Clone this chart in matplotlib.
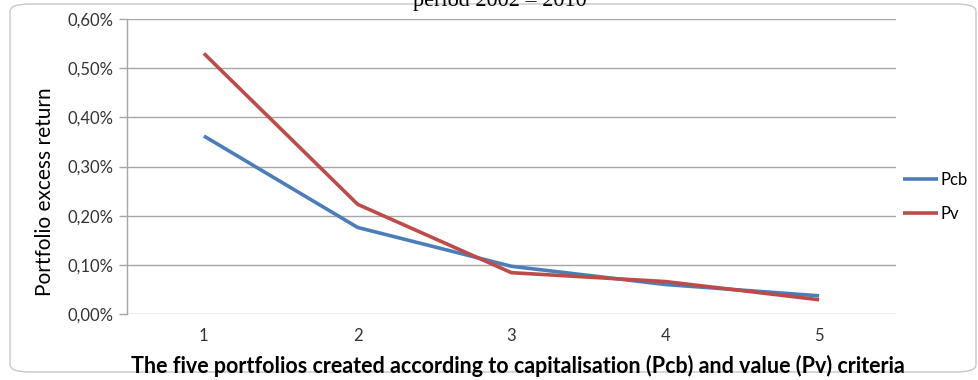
import matplotlib.pyplot as plt
from matplotlib.patches import FancyBboxPatch
from matplotlib.ticker import FuncFormatter

# data (excess return in %)
portfolios = [1, 2, 3, 4, 5]
pcb = [0.362, 0.176, 0.097, 0.060, 0.037]
pv = [0.530, 0.223, 0.084, 0.066, 0.029]
yticks = [0.0, 0.1, 0.2, 0.3, 0.4, 0.5, 0.6]

plt.rcParams['font.family'] = ['Lato', 'DejaVu Sans']

fig = plt.figure(figsize=(9.79, 3.80), dpi=100)
W, H = 979, 380

# rounded chart frame
frame = FancyBboxPatch((10 / W, 8 / H), 966 / W, 368 / H,
                       boxstyle="round,pad=0,rounding_size=0.02",
                       transform=fig.transFigure, fill=False,
                       edgecolor='#c8c8c8', linewidth=1.0)
fig.patches.append(frame)

ax = fig.add_axes([127 / W, (H - 314) / H, (896 - 127) / W, (314 - 19) / H])

ax.plot(portfolios, pcb, color='#4a7ebb', linewidth=2.6, label='Pcb',
        solid_capstyle='butt')
ax.plot(portfolios, pv, color='#be4b48', linewidth=2.6, label='Pv',
        solid_capstyle='butt')

ax.set_xlim(0.5, 5.5)
ax.set_ylim(0, 0.6)
ax.set_yticks(yticks)
ax.yaxis.set_major_formatter(FuncFormatter(lambda v, p: f"{v:.2f}%".replace('.', ',')))
ax.set_xticks(portfolios)

ax.grid(axis='y', color='#a6a6a6', linewidth=1.0)
ax.set_axisbelow(True)
for s in ['top', 'right', 'bottom']:
    ax.spines[s].set_visible(False)
ax.spines['left'].set_color('#a6a6a6')
ax.spines['left'].set_linewidth(1.0)

ax.tick_params(axis='y', length=6, width=1, color='#a6a6a6', labelsize=12,
               labelcolor='#333333', pad=4)
ax.tick_params(axis='x', length=0, labelsize=12, labelcolor='#333333', pad=10)

# y label sits a bit below the axes centre in the original
fig.text(45 / W, 1 - 192 / H, 'Portfolio excess return', rotation=90,
         ha='center', va='center', fontsize=15, color='black')
fig.text(518 / W, 1 - 366 / H,
         'The five portfolios created according to capitalisation (Pcb) and value (Pv) criteria',
         ha='center', va='center', fontsize=15.5, fontweight='bold', color='black')

ax.legend(loc='center left', bbox_to_anchor=(896 / W, 1 - 197 / H),
          bbox_transform=fig.transFigure, frameon=False,
          fontsize=12, handlelength=2.1, handletextpad=0.15, labelspacing=1.1,
          borderaxespad=0.0, borderpad=0.4)

# cropped title
fig.text(500 / W, 1.0 + 8 / H, 'period 2002 – 2010', ha='center', va='top',
         fontsize=16, family='Liberation Serif')

fig.savefig('out.png', dpi=100)
